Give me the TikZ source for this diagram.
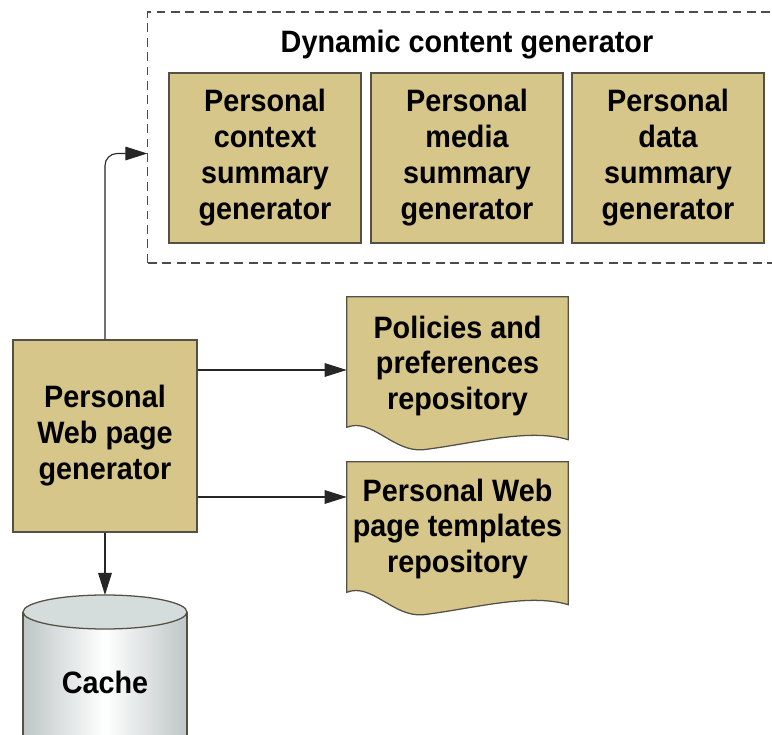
\documentclass[tikz,border=0pt]{standalone}
\usepackage{fontspec}
\setmainfont{Liberation Sans}[FakeStretch=0.93]
\usetikzlibrary{arrows.meta,positioning}
\definecolor{tan}{RGB}{215,198,138}
\definecolor{edge}{RGB}{85,80,70}
\definecolor{cylgray}{RGB}{190,198,198}
\definecolor{cyltop}{RGB}{212,220,220}
\tikzset{
  box/.style={draw=edge,fill=tan,line width=0.9pt,align=center,font=\fontsize{22}{25.6}\selectfont\bfseries},
  doc/.style={align=center,font=\fontsize{22}{25.6}\selectfont\bfseries,minimum width=5.525cm,minimum height=3.25cm},
  flow/.style={line width=0.8pt,draw=black!85,-{Triangle[length=5.5mm,width=3.4mm]}}
}
\newcommand\wavydoc[1]{%
  \filldraw[draw=edge,fill=tan,line width=0.9pt] (#1.south west) -- (#1.north west) -- (#1.north east) -- ++(0,143)
    .. controls ++(-40,-12) and ++(50,-6) .. ++(-145,10)
    .. controls ++(-30,3) and ++(25,-10) .. (#1.south west) -- cycle;}
\begin{document}
\begin{tikzpicture}[x=0.025cm,y=-0.025cm]
  \useasboundingbox (0,0) rectangle (772,735);
  \node[draw=black!70,dashed,dash pattern=on 0.22cm off 0.14cm,line width=0.8pt,minimum width=15.8cm,minimum height=6.275cm] (dyn) at (464,137.5) {};
  \node[font=\fontsize{22}{25}\selectfont\bfseries] (dyntitle) at (467,45) {Dynamic content generator};
  \node[box,minimum width=4.8cm,minimum height=4.25cm] (ctx) at (265,158) {Personal\\context\\summary\\generator};
  \node[box,minimum width=4.8cm,minimum height=4.25cm] (media) at (467,158) {Personal\\media\\summary\\generator};
  \node[box,minimum width=4.8cm,minimum height=4.25cm] (data) at (668,158) {Personal\\data\\summary\\generator};
  \node[box,minimum width=4.6cm,minimum height=4.8cm] (gen) at (105,436) {Personal\\Web page\\generator};
  \node[doc] (pol) at (457.5,362) {};
  \wavydoc{pol}
  \node[doc] at ([yshift=-0.1cm]pol) {Policies and\\preferences\\repository};
  \node[doc] (tpl) at (457.5,527) {};
  \wavydoc{tpl}
  \node[doc] at ([yshift=-0.05cm]tpl) {Personal Web\\page templates\\repository};
  \shade[left color=cylgray,right color=cylgray,middle color=white] (23,612) rectangle (187,760);
  \draw[edge,line width=0.9pt] (23,612) -- (23,760) (187,612) -- (187,760);
  \filldraw[draw=edge,fill=cyltop,line width=0.9pt] (105,612) ellipse [x radius=82,y radius=17];
  \node[font=\fontsize{22}{25.6}\selectfont\bfseries] (cache) at (105,682) {Cache};
  \coordinate (cachetop) at (105,595);
  \draw[flow,rounded corners=0.3cm] (gen.north) |- ([yshift=-0.4cm]dyn.west);
  \draw[flow] ([yshift=-0.2cm]gen.east |- pol.west) -- ([yshift=-0.2cm]pol.west);
  \draw[flow] ([yshift=0.75cm]gen.east |- tpl.west) -- ([yshift=0.75cm]tpl.west);
  \draw[flow] (gen.south) -- (cachetop);
\end{tikzpicture}
\end{document}
